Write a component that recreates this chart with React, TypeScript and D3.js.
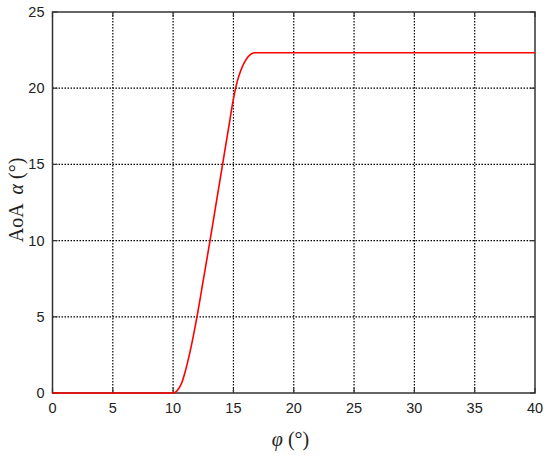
import React from "react";
import * as d3 from "d3";

const phi = [0, 10, 10.3, 10.7, 11.0, 11.4, 12.0, 12.5, 13.06, 13.6, 14.1, 14.6, 15.0, 15.3, 15.6, 15.9, 16.2, 16.5, 16.8, 40];
const alpha = [0, 0, 0.12, 0.64, 1.4, 2.7, 5.1, 7.4, 10, 12.6, 15, 17.4, 19.3, 20.4, 21.15, 21.68, 22.05, 22.26, 22.33, 22.33];
const xTicks = [0, 5, 10, 15, 20, 25, 30, 35, 40];
const yTicks = [0, 5, 10, 15, 20, 25];

export default function App() {
  const W = 550, H = 458;
  const L = 52.5, R = 535, T = 12, B = 393;
  const x = d3.scaleLinear().domain([0, 40]).range([L, R]);
  const y = d3.scaleLinear().domain([0, 25]).range([B, T]);
  const line = d3
    .line<number>()
    .x((_, i) => x(phi[i]))
    .y((d) => y(d))
    .curve(d3.curveMonotoneX);
  const tk = 5;
  return (
    <svg width={W} height={H} style={{ position: "absolute", left: 0, top: 0, background: "#fff" }}>
      <rect x={0} y={0} width={W} height={H} fill="#fff" />
      {xTicks.slice(1, -1).map((t) => (
        <line key={"gx" + t} x1={x(t)} x2={x(t)} y1={T} y2={B} stroke="#000" strokeWidth={1.2} strokeDasharray="1.5,1.5" />
      ))}
      {yTicks.slice(1, -1).map((t) => (
        <line key={"gy" + t} x1={L} x2={R} y1={y(t)} y2={y(t)} stroke="#000" strokeWidth={1.2} strokeDasharray="1.5,1.5" />
      ))}
      {xTicks.map((t) => (
        <g key={"tx" + t}>
          <line x1={x(t)} x2={x(t)} y1={B} y2={B - tk} stroke="#333" strokeWidth={1.2} />
          <line x1={x(t)} x2={x(t)} y1={T} y2={T + tk} stroke="#333" strokeWidth={1.2} />
          <text x={x(t)} y={B + 20} textAnchor="middle" fontFamily="Liberation Sans, Arial, sans-serif" fontSize={14.5} fill="#222">{t}</text>
        </g>
      ))}
      {yTicks.map((t) => (
        <g key={"ty" + t}>
          <line x1={L} x2={L + tk} y1={y(t)} y2={y(t)} stroke="#333" strokeWidth={1.2} />
          <line x1={R} x2={R - tk} y1={y(t)} y2={y(t)} stroke="#333" strokeWidth={1.2} />
          <text x={L - 8} y={y(t) + 5} textAnchor="end" fontFamily="Liberation Sans, Arial, sans-serif" fontSize={14.5} fill="#222">{t}</text>
        </g>
      ))}
      <rect x={L} y={T} width={R - L} height={B - T} fill="none" stroke="#333" strokeWidth={1.5} />
      <path d={line(alpha) || ""} fill="none" stroke="#ff0000" strokeWidth={1.6} />
      <text x={290.5} y={446} textAnchor="middle" fontFamily="Liberation Serif, Times New Roman, serif" fontSize={20} fill="#222">
        <tspan fontStyle="italic">φ</tspan> (°)
      </text>
      <text transform={`translate(23, 200) rotate(-90)`} textAnchor="middle" fontFamily="Liberation Serif, Times New Roman, serif" fontSize={20} fill="#222" style={{ whiteSpace: "pre" }}>
        {"AoA  "}<tspan fontStyle="italic">α</tspan>{" (°)"}
      </text>
    </svg>
  );
}
